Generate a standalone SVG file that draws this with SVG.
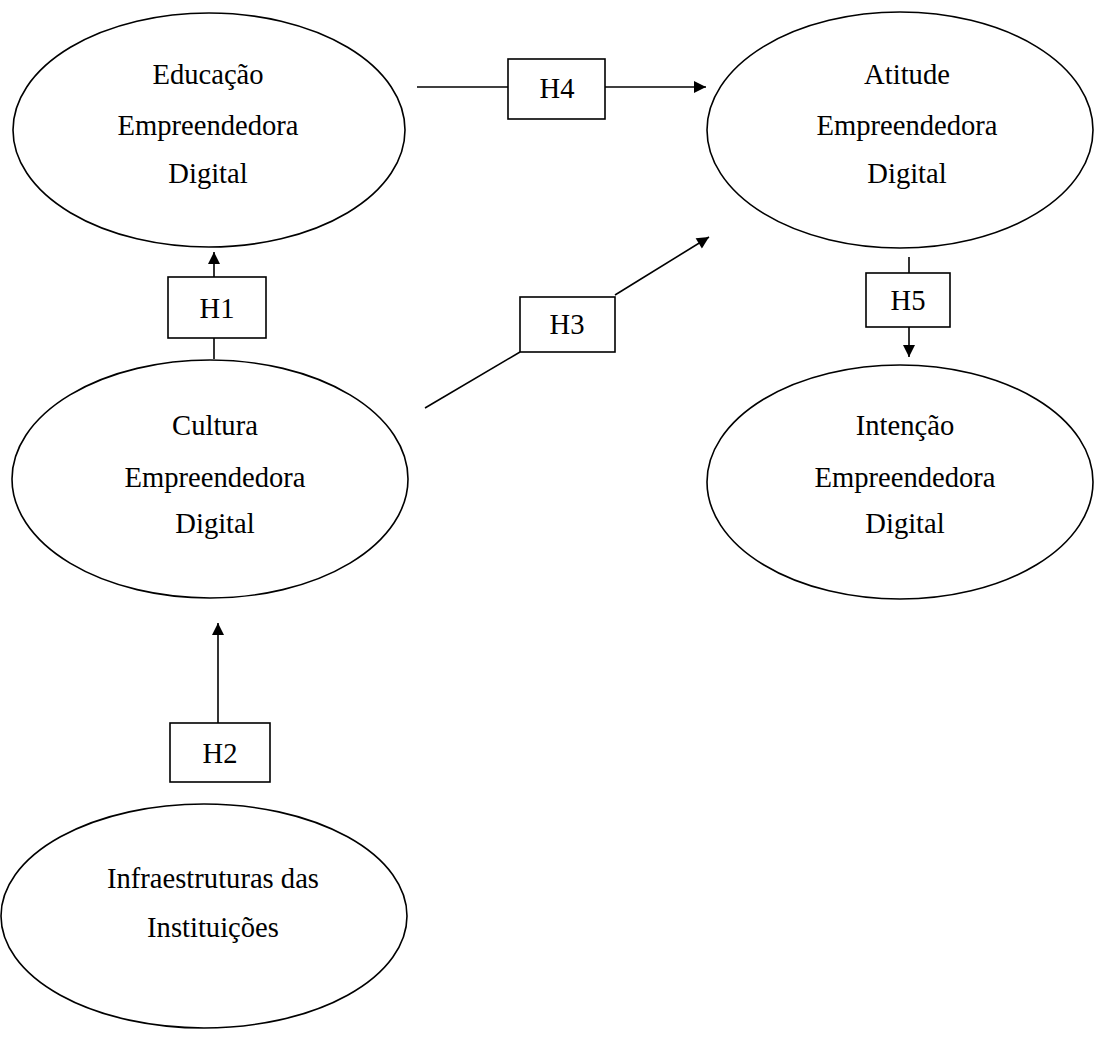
<svg xmlns="http://www.w3.org/2000/svg" width="1097" height="1039" viewBox="0 0 1097 1039">
<style>
.node ellipse{fill:#fff;stroke:#000;stroke-width:1.6}
.box rect{fill:#fff;stroke:#000;stroke-width:1.6}
text{font-family:"Liberation Serif","Times New Roman",serif;font-size:28.6px;fill:#000;text-anchor:middle}
.conn line{stroke:#000;stroke-width:1.6;fill:none}
</style>
<defs>
<marker id="arr" viewBox="0 0 10 10" refX="10" refY="5" markerWidth="13" markerHeight="12" markerUnits="userSpaceOnUse" orient="auto">
<path d="M0,0 L10,5 L0,10 Z" fill="#000"/>
</marker>
</defs>
<rect width="1097" height="1039" fill="#fff"/>
<g id="connectors" class="conn">
<line x1="417" y1="87" x2="508" y2="87"/>
<line x1="605" y1="87" x2="706" y2="87" marker-end="url(#arr)"/>
<line x1="214" y1="359" x2="214" y2="338"/>
<line x1="214" y1="277" x2="214" y2="252" marker-end="url(#arr)"/>
<line x1="425" y1="408" x2="520" y2="352"/>
<line x1="615" y1="295" x2="709" y2="237" marker-end="url(#arr)"/>
<line x1="909" y1="257" x2="909" y2="273"/>
<line x1="909" y1="327" x2="909" y2="357" marker-end="url(#arr)"/>
<line x1="218" y1="723" x2="218" y2="623" marker-end="url(#arr)"/>
</g>
<g id="educacao" class="node">
<ellipse cx="209" cy="130" rx="196" ry="117"/>
<text x="208" y="84">Educação</text>
<text x="208" y="135">Empreendedora</text>
<text x="208" y="183">Digital</text>
</g>
<g id="atitude" class="node">
<ellipse cx="900" cy="130" rx="193" ry="118"/>
<text x="907" y="84">Atitude</text>
<text x="907" y="135">Empreendedora</text>
<text x="907" y="183">Digital</text>
</g>
<g id="cultura" class="node">
<ellipse cx="210" cy="479" rx="198" ry="119"/>
<text x="215" y="435">Cultura</text>
<text x="215" y="487">Empreendedora</text>
<text x="215" y="533">Digital</text>
</g>
<g id="intencao" class="node">
<ellipse cx="900" cy="482" rx="193" ry="117"/>
<text x="905" y="435">Intenção</text>
<text x="905" y="487">Empreendedora</text>
<text x="905" y="533">Digital</text>
</g>
<g id="infraestruturas" class="node">
<ellipse cx="204" cy="916" rx="203" ry="112"/>
<text x="213" y="888">Infraestruturas das</text>
<text x="213" y="937">Instituições</text>
</g>
<g id="h4" class="box">
<rect x="508" y="59" width="97" height="60"/>
<text x="557" y="98">H4</text>
</g>
<g id="h1" class="box">
<rect x="168" y="277" width="98" height="61"/>
<text x="217" y="318">H1</text>
</g>
<g id="h3" class="box">
<rect x="520" y="297" width="95" height="55"/>
<text x="567" y="334">H3</text>
</g>
<g id="h5" class="box">
<rect x="866" y="273" width="84" height="54"/>
<text x="908" y="310">H5</text>
</g>
<g id="h2" class="box">
<rect x="170" y="723" width="100" height="59"/>
<text x="220" y="763">H2</text>
</g>
</svg>
